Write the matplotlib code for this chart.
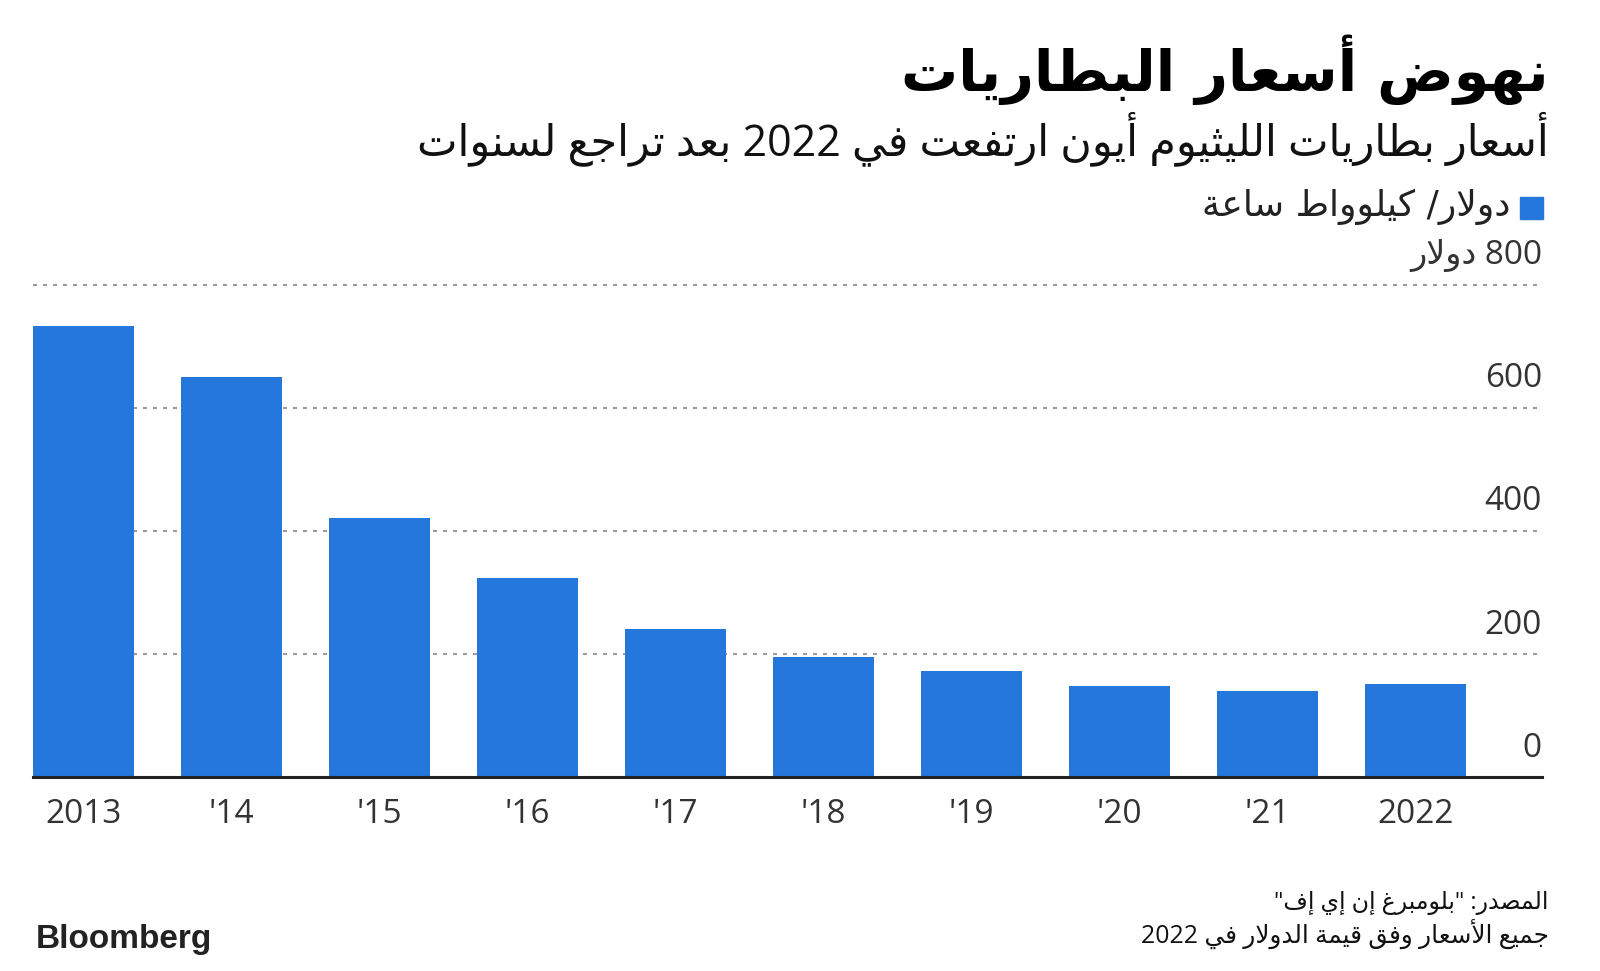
import re

import matplotlib
matplotlib.use("Agg")
import matplotlib.pyplot as plt
from matplotlib.patches import Rectangle

# data
years = ["2013", "'14", "'15", "'16", "'17", "'18", "'19", "'20", "'21", "2022"]
prices = [733, 650, 421, 324, 241, 196, 173, 148, 140, 152]
y_ticks = [0, 200, 400, 600, 800]
y_labels = ["0", "200", "400", "600", "800 دولار"]

title = "نهوض أسعار البطاريات"
subtitle = "أسعار بطاريات الليثيوم أيون ارتفعت في 2022 بعد تراجع لسنوات"
legend_label = "دولار/ كيلوواط ساعة"
source_lines = ['المصدر: "بلومبرغ إن إي إف"', "جميع الأسعار وفق قيمة الدولار في 2022"]

BLUE = "#2677dc"

# --- minimal arabic shaping (matplotlib has no shaping / bidi) ---
_LETTERS = [
    ("\u0621", 0xFE80, 1), ("\u0622", 0xFE81, 2), ("\u0623", 0xFE83, 2),
    ("\u0624", 0xFE85, 2), ("\u0625", 0xFE87, 2), ("\u0626", 0xFE89, 4),
    ("\u0627", 0xFE8D, 2), ("\u0628", 0xFE8F, 4), ("\u0629", 0xFE93, 2),
    ("\u062A", 0xFE95, 4), ("\u062B", 0xFE99, 4), ("\u062C", 0xFE9D, 4),
    ("\u062D", 0xFEA1, 4), ("\u062E", 0xFEA5, 4), ("\u062F", 0xFEA9, 2),
    ("\u0630", 0xFEAB, 2), ("\u0631", 0xFEAD, 2), ("\u0632", 0xFEAF, 2),
    ("\u0633", 0xFEB1, 4), ("\u0634", 0xFEB5, 4), ("\u0635", 0xFEB9, 4),
    ("\u0636", 0xFEBD, 4), ("\u0637", 0xFEC1, 4), ("\u0638", 0xFEC5, 4),
    ("\u0639", 0xFEC9, 4), ("\u063A", 0xFECD, 4), ("\u0641", 0xFED1, 4),
    ("\u0642", 0xFED5, 4), ("\u0643", 0xFED9, 4), ("\u0644", 0xFEDD, 4),
    ("\u0645", 0xFEE1, 4), ("\u0646", 0xFEE5, 4), ("\u0647", 0xFEE9, 4),
    ("\u0648", 0xFEED, 2), ("\u0649", 0xFEEF, 2), ("\u064A", 0xFEF1, 4),
]
FORMS = {c: (b, n) for c, b, n in _LETTERS}
LAM_ALEF = {"\u0622": 0xFEF5, "\u0623": 0xFEF7, "\u0625": 0xFEF9, "\u0627": 0xFEFB}


def _is_ar(c):
    return isinstance(c, tuple) or c in FORMS


def _joins_next(c):
    return not isinstance(c, tuple) and c in FORMS and FORMS[c][1] == 4


def shape(text):
    chars = []
    i = 0
    while i < len(text):
        c = text[i]
        if c == "\u0644" and i + 1 < len(text) and text[i + 1] in LAM_ALEF:
            chars.append(("la", text[i + 1]))
            i += 2
        else:
            chars.append(c)
            i += 1
    out = []
    for k, c in enumerate(chars):
        prev = chars[k - 1] if k > 0 else None
        nxt = chars[k + 1] if k + 1 < len(chars) else None
        jp = prev is not None and _joins_next(prev) and _is_ar(c)
        if isinstance(c, tuple):
            base = LAM_ALEF[c[1]]
            out.append(chr(base + 1 if jp else base))
        elif c in FORMS:
            base, n = FORMS[c]
            jn = n == 4 and nxt is not None and _is_ar(nxt)
            if n == 1:
                out.append(chr(base))
            elif n == 2:
                out.append(chr(base + 1 if jp else base))
            else:
                if jp and jn:
                    out.append(chr(base + 3))
                elif jn:
                    out.append(chr(base + 2))
                elif jp:
                    out.append(chr(base + 1))
                else:
                    out.append(chr(base))
        else:
            out.append(c)
    # visual order: reverse, but keep digit / latin runs left-to-right
    tokens = re.findall(r"[0-9A-Za-z]+|.", "".join(out))
    return "".join(reversed(tokens))


plt.rcParams["font.family"] = ["Open Sans", "DejaVu Sans"]

fig = plt.figure(figsize=(16, 9.71), dpi=100)
ax = fig.add_axes([0.020625, 0.1993, 0.943125, 0.5072])

x = list(range(len(years)))
ax.bar(x, prices, width=0.682, color=BLUE, zorder=2)
ax.set_xlim(-0.341, 9.855)
ax.set_ylim(0, 800)

for v in y_ticks[1:]:
    ax.axhline(v, color="#9a9a9a", lw=1.5, ls=(0, (1.9, 2.9)), zorder=1, clip_on=False)

for v, lab in zip(y_ticks, y_labels):
    ax.annotate(shape(lab), xy=(1, v), xycoords=("axes fraction", "data"),
                xytext=(0, 15), textcoords="offset points", ha="right", va="baseline",
                fontsize=24, color="#333333", family=["Open Sans", "DejaVu Sans"])

ax.set_xticks(x, years)
ax.tick_params(axis="x", length=0, pad=15, labelsize=24, labelcolor="#333333")
ax.set_yticks([])
for s in ["top", "left", "right"]:
    ax.spines[s].set_visible(False)
ax.spines["bottom"].set_linewidth(2.2)
ax.spines["bottom"].set_color("#222222")
ax.spines["bottom"].set_zorder(3)

# header
fig.text(1549 / 1600, 1 - 70 / 971, shape(title), ha="right", va="center",
         fontsize=41, fontweight="bold", color="black", family="DejaVu Sans")
fig.text(1549 / 1600, 1 - 139 / 971, shape(subtitle), ha="right", va="center",
         fontsize=31, color="#111111", family=["Open Sans", "DejaVu Sans"])

# legend
fig.patches.append(Rectangle((1520 / 1600, 1 - 219 / 971), 23 / 1600, 22 / 971,
                             transform=fig.transFigure, color=BLUE))
fig.text(1510 / 1600, 1 - 207 / 971, shape(legend_label), ha="right", va="center",
         fontsize=26, color="#222222", family="DejaVu Sans")

# footer
fig.text(1549 / 1600, 1 - 903 / 971, shape(source_lines[0]), ha="right", va="center",
         fontsize=17, color="#111111", family=["Open Sans", "DejaVu Sans"])
fig.text(1549 / 1600, 1 - 934 / 971, shape(source_lines[1]), ha="right", va="center",
         fontsize=17.8, color="#111111", family=["Open Sans", "DejaVu Sans"])
fig.text(36 / 1600, 1 - 939 / 971, "Bloomberg", ha="left", va="center",
         fontsize=24, fontweight="bold", color="#222222", family="Liberation Sans")

fig.savefig("out.png", dpi=100)
